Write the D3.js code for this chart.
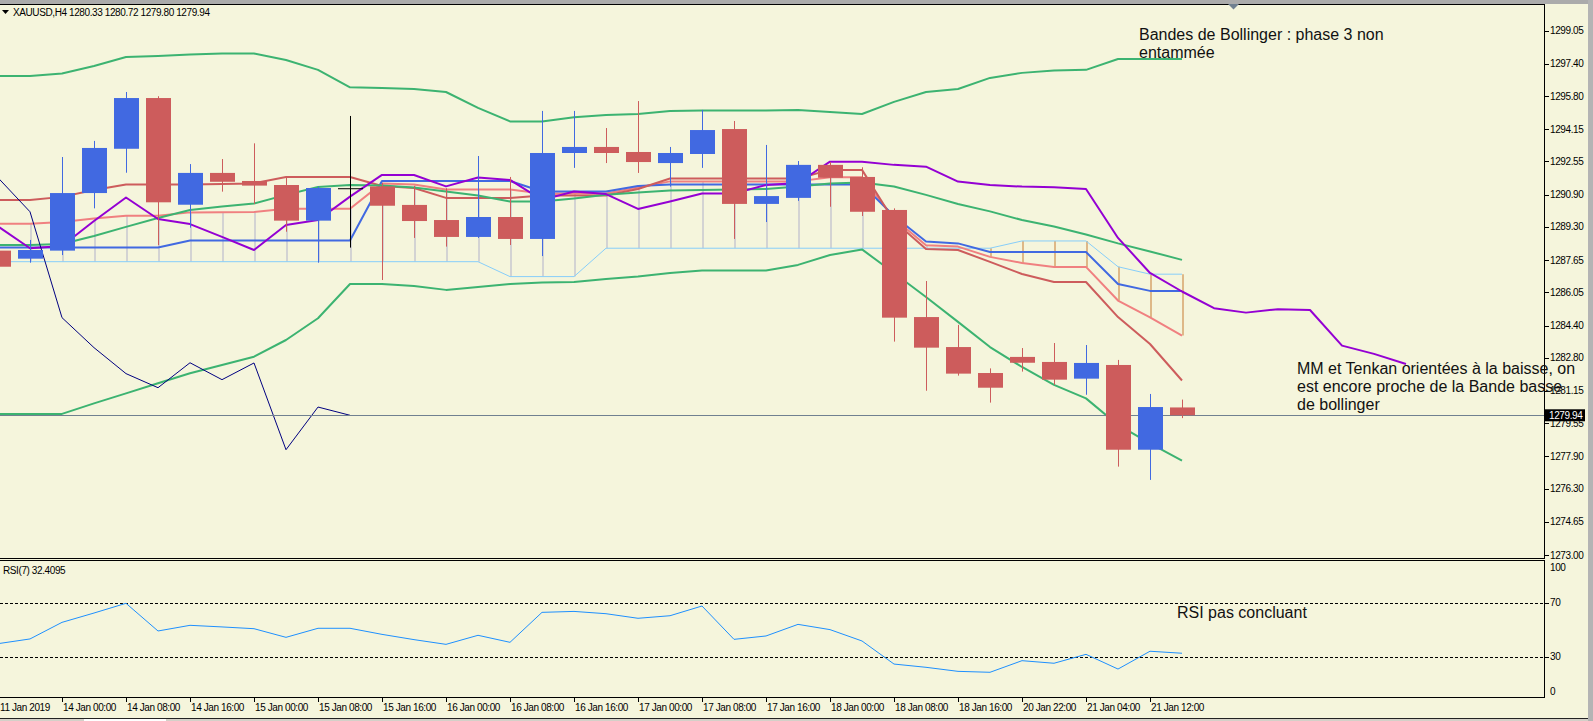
<!DOCTYPE html>
<html>
<head>
<meta charset="utf-8">
<script src="https://cdn.jsdelivr.net/npm/d3@7"></script>
<style>
body { margin: 0; background: #F5F5DC; overflow: hidden; }
svg { display: block; }
text { font-family: "Liberation Sans", Arial, sans-serif; }
</style>
</head>
<body>
<svg id="chart" width="1593" height="721"></svg>
<script>
//////////////////////////////////////////////////////////////////////////////
// Data. Bar index 0 = 14 Jan 00:00,
// every series below starts at bar index -2 unless noted.

var firstIdx = -2;

var openP  = [1288.12, 1287.72, 1288.12, 1290.98, 1293.18, 1295.70, 1290.40, 1291.98, 1291.58, 1291.38,
              1289.61, 1291.22, 1291.31, 1290.39, 1289.64, 1288.80, 1289.79, 1288.70, 1292.97, 1293.27,
              1293.02, 1292.47, 1292.92, 1294.16, 1290.44, 1290.74, 1292.38, 1291.78, 1290.14, 1284.82,
              1283.33, 1282.04, 1282.84, 1282.59, 1281.76, 1282.44, 1278.23, 1280.33];
var highP  = [1288.30, 1288.65, 1292.77, 1293.57, 1296.00, 1295.79, 1292.42, 1292.67, 1293.45, 1291.73,
              1291.30, 1294.81, 1291.48, 1291.33, 1291.22, 1292.82, 1291.78, 1295.06, 1295.06, 1294.21,
              1295.55, 1293.27, 1295.11, 1294.56, 1293.37, 1292.57, 1292.52, 1292.26, 1290.22, 1286.61,
              1284.43, 1282.27, 1283.28, 1283.53, 1283.43, 1282.69, 1281.00, 1280.72];
var lowP   = [1287.10, 1287.52, 1287.90, 1290.22, 1291.99, 1288.39, 1289.26, 1291.05, 1290.44, 1289.06,
              1287.52, 1288.27, 1286.66, 1288.75, 1288.32, 1288.75, 1288.40, 1287.85, 1292.23, 1292.47,
              1291.98, 1291.30, 1292.23, 1288.70, 1289.54, 1290.59, 1290.30, 1289.84, 1283.60, 1281.16,
              1281.91, 1280.57, 1282.11, 1281.45, 1280.96, 1277.39, 1276.73, 1279.80];
var closeP = [1287.32, 1288.15, 1290.98, 1293.22, 1295.70, 1290.52, 1291.98, 1291.54, 1291.35, 1289.61,
              1291.23, 1291.22, 1290.35, 1289.59, 1288.80, 1289.79, 1288.70, 1292.97, 1293.27, 1292.97,
              1292.52, 1292.97, 1294.11, 1290.44, 1290.83, 1292.38, 1291.74, 1290.05, 1284.79, 1283.30,
              1282.01, 1281.31, 1282.55, 1281.71, 1282.54, 1278.23, 1280.35, 1279.94];

// Bollinger bands (green)
var bbUpper  = [1296.80, 1296.80, 1296.92, 1297.29, 1297.74, 1297.79, 1297.86, 1297.91, 1297.91, 1297.59,
                1297.10, 1296.23, 1296.20, 1296.15, 1296.00, 1295.21, 1294.54, 1294.54, 1294.74, 1294.86,
                1294.91, 1295.06, 1295.08, 1295.08, 1295.08, 1295.11, 1295.01, 1294.91, 1295.51, 1296.00,
                1296.15, 1296.70, 1296.95, 1297.07, 1297.10, 1297.64, 1297.64, 1297.64];
var bbMiddle = [1288.40, 1288.40, 1288.45, 1288.85, 1289.30, 1289.74, 1290.14, 1290.31, 1290.46, 1290.89,
                1291.28, 1291.38, 1291.36, 1291.26, 1291.06, 1290.86, 1290.56, 1290.56, 1290.71, 1290.89,
                1291.01, 1291.11, 1291.13, 1291.16, 1291.18, 1291.31, 1291.46, 1291.51, 1291.31, 1290.89,
                1290.44, 1290.07, 1289.64, 1289.32, 1288.92, 1288.48, 1288.08, 1287.66];
var bbLower  = [1280.01, 1280.01, 1280.01, 1280.53, 1281.03, 1281.53, 1282.03, 1282.44, 1282.85, 1283.68,
                1284.76, 1286.46, 1286.46, 1286.36, 1286.17, 1286.31, 1286.46, 1286.54, 1286.56, 1286.71,
                1286.84, 1287.01, 1287.13, 1287.13, 1287.13, 1287.41, 1287.90, 1288.18, 1287.01, 1285.82,
                1284.58, 1283.33, 1282.34, 1281.45, 1280.78, 1279.46, 1278.54, 1277.69];

// Ichimoku lines
var tenkan = [1290.64, 1290.64, 1290.79, 1291.13, 1291.41, 1291.41, 1291.41, 1291.43, 1291.46, 1291.78,
              1291.78, 1291.78, 1291.33, 1291.23, 1290.74, 1290.74, 1290.74, 1290.86, 1290.86, 1290.86,
              1291.18, 1291.70, 1291.70, 1291.70, 1291.70, 1291.70, 1292.13, 1292.13, 1289.59, 1288.20,
              1288.15, 1287.56, 1286.96, 1286.56, 1286.56, 1284.82, 1283.48, 1281.67];
var kijun  = [1288.28, 1288.28, 1288.28, 1288.28, 1288.28, 1288.28, 1288.62, 1288.62, 1288.62, 1288.62,
              1288.62, 1288.62, 1291.58, 1291.58, 1291.58, 1291.58, 1291.58, 1291.06, 1291.06, 1291.06,
              1291.33, 1291.41, 1291.41, 1291.41, 1291.41, 1291.41, 1291.41, 1291.41, 1289.84, 1288.57,
              1288.48, 1288.05, 1288.05, 1288.05, 1288.05, 1286.46, 1286.12, 1286.12];
var spanA  = [1289.46, 1289.46, 1289.54, 1289.71, 1289.85, 1289.85, 1290.02, 1290.03, 1290.04, 1290.20,
              1290.20, 1290.20, 1291.46, 1291.41, 1291.16, 1291.16, 1291.16, 1290.96, 1290.96, 1290.96,
              1291.26, 1291.56, 1291.56, 1291.56, 1291.56, 1291.56, 1291.77, 1291.77, 1289.72, 1288.39,
              1288.32, 1287.81, 1287.51, 1287.31, 1287.31, 1285.64, 1284.80, 1283.90];
var spanB  = [1287.57, 1287.57, 1287.57, 1287.57, 1287.57, 1287.57, 1287.57, 1287.57, 1287.57, 1287.57,
              1287.57, 1287.57, 1287.57, 1287.57, 1287.57, 1287.57, 1286.83, 1286.83, 1286.83, 1288.24,
              1288.24, 1288.24, 1288.24, 1288.24, 1288.24, 1288.24, 1288.24, 1288.24, 1288.24, 1288.24,
              1288.24, 1288.24, 1288.60, 1288.60, 1288.60, 1287.32, 1286.95, 1286.95];

// purple moving average, runs 7 bars past the last candle (index -2 .. 42)
var purpleMA = [1289.32, 1288.24, 1288.35, 1289.59, 1290.76, 1289.69, 1289.44, 1288.80, 1288.15, 1289.39,
                1289.64, 1290.80, 1291.88, 1291.88, 1291.31, 1291.75, 1291.63, 1290.64, 1291.06, 1290.93,
                1290.19, 1290.56, 1290.96, 1290.96, 1291.38, 1291.48, 1292.54, 1292.54, 1292.38, 1292.29,
                1291.55, 1291.38, 1291.30, 1291.27, 1291.18, 1288.75, 1287.01, 1286.09, 1285.26, 1285.04,
                1285.21, 1285.17, 1283.40, 1282.99, 1282.49];

// lagging span (navy), starts at bar index -3
var chikouStart = -3;
var chikou = [1292.38, 1291.74, 1290.05, 1284.79, 1283.30, 1282.01, 1281.31, 1282.55, 1281.71, 1282.54,
              1278.23, 1280.35, 1279.94];

// RSI(7)
var rsi = [39.5, 43.0, 55.3, 62.2, 69.4, 48.9, 53.1, 51.9, 50.6, 44.2,
           50.9, 50.9, 46.4, 42.5, 39.0, 45.7, 40.5, 62.7, 63.4, 61.7,
           58.3, 60.2, 67.4, 42.7, 45.2, 53.8, 49.9, 41.5, 24.4, 22.0,
           19.0, 18.3, 26.9, 25.0, 31.6, 20.7, 33.9, 32.41];

var priceTicks = ["1299.05", "1297.40", "1295.80", "1294.15", "1292.55", "1290.90", "1289.30", "1287.65",
                  "1286.05", "1284.40", "1282.80", "1281.15", "1279.55", "1277.90", "1276.30", "1274.65", "1273.00"];
var rsiTicks = [100, 70, 30, 0];
var rsiLevels = [70, 30];
var lastPrice = 1279.94;

var timeIdx  = [-2, 0, 2, 4, 6, 8, 10, 12, 14, 16, 18, 20, 22, 24, 26, 28, 30, 32, 34];
var timeText = ["11 Jan 2019", "14 Jan 00:00", "14 Jan 08:00", "14 Jan 16:00", "15 Jan 00:00", "15 Jan 08:00",
                "15 Jan 16:00", "16 Jan 00:00", "16 Jan 08:00", "16 Jan 16:00", "17 Jan 00:00", "17 Jan 08:00",
                "17 Jan 16:00", "18 Jan 00:00", "18 Jan 08:00", "18 Jan 16:00", "20 Jan 22:00", "21 Jan 04:00",
                "21 Jan 12:00"];

var header = "XAUUSD,H4  1280.33 1280.72 1279.80 1279.94";
var rsiHeader = "RSI(7) 32.4095";
var noteBands = ["Bandes de Bollinger : phase 3 non", "entammée"];
var noteMM = ["MM et Tenkan orientées à la baisse, on", "est encore proche de la Bande basse", "de bollinger"];
var noteRsi = "RSI pas concluant";

//////////////////////////////////////////////////////////////////////////////
// Layout and scales

var W = 1593, H = 721;
var plotRight = 1545;
var mainTop = 4, mainBottom = 558;
var rsiTop = 560, rsiBottom = 697;

var xScale = d3.scaleLinear().domain([0, 1]).range([62, 94]);
var yPrice = d3.scaleLinear().domain([1273.00, 1299.05]).range([555.0, 30.6]);
var yRsi   = d3.scaleLinear().domain([0, 100]).range([697, 562]);

var bull = "#4169E1", bear = "#CD5C5C";

function series(values, start)
{
    return values.map(function(v, i) { return {idx: i + start, v: v}; });
}

function crisp(v) { return Math.round(v) + 0.5; }

var svg = d3.select("#chart");

svg.append("rect").attr("width", W).attr("height", H).attr("fill", "#F5F5DC");
svg.append("rect").attr("width", W).attr("height", mainTop).attr("fill", "#ABABAB");
svg.append("rect").attr("x", 1588).attr("width", 5).attr("height", H).attr("fill", "#B4B4B4");
svg.append("rect").attr("y", 719).attr("width", 1588).attr("height", 2).attr("fill", "#D4D0C8");
svg.append("rect").attr("x", 84).attr("y", 719).attr("width", 82).attr("height", 2).attr("fill", "#ffffff");
svg.append("line").attr("x1", 0).attr("x2", 1588).attr("y1", 718.5).attr("y2", 718.5).attr("stroke", "#222");

var defs = svg.append("defs");
defs.append("clipPath").attr("id", "mainClip").append("rect")
    .attr("x", 0).attr("y", mainTop + 1).attr("width", plotRight - 1).attr("height", mainBottom - mainTop - 1);
defs.append("clipPath").attr("id", "rsiClip").append("rect")
    .attr("x", 0).attr("y", rsiTop + 1).attr("width", plotRight - 1).attr("height", rsiBottom - rsiTop - 1);

var main = svg.append("g").attr("clip-path", "url(#mainClip)");

//////////////////////////////////////////////////////////////////////////////
// Kumo hatching between span A and span B

main.append("g")
    .selectAll("line")
    .data(spanA.map(function(a, i) { return {idx: i + firstIdx, a: a, b: spanB[i]}; }))
    .enter()
    .append("line")
    .attr("x1", function(d) { return xScale(d.idx) + 1; })
    .attr("x2", function(d) { return xScale(d.idx) + 1; })
    .attr("y1", function(d) { return yPrice(d.a); })
    .attr("y2", function(d) { return yPrice(d.b); })
    .attr("stroke", function(d) { return d.a >= d.b ? "#D3D3D3" : "#DEB887"; })
    .attr("stroke-width", 2);

var priceLine = d3.line()
    .x(function(d) { return xScale(d.idx); })
    .y(function(d) { return yPrice(d.v); });

function drawLine(values, start, color, width)
{
    main.append("path")
        .datum(series(values, start))
        .attr("d", priceLine)
        .attr("fill", "none")
        .attr("stroke", color)
        .attr("stroke-width", width)
        .attr("stroke-linejoin", "round");
}

drawLine(spanB, firstIdx, "#87CEFA", 1);
drawLine(spanA, firstIdx, "#F08080", 2);
drawLine(kijun, firstIdx, "#4169E1", 2);
drawLine(tenkan, firstIdx, "#CD5C5C", 2);
drawLine(bbUpper, firstIdx, "#3CB371", 2);
drawLine(bbMiddle, firstIdx, "#3CB371", 2);
drawLine(bbLower, firstIdx, "#3CB371", 2);
drawLine(purpleMA, firstIdx, "#9400D3", 2);
drawLine(chikou, chikouStart, "#000080", 1);

// last price line
main.append("line")
    .attr("x1", 0).attr("x2", plotRight)
    .attr("y1", crisp(yPrice(lastPrice))).attr("y2", crisp(yPrice(lastPrice)))
    .attr("stroke", "#708090").attr("stroke-width", 1);

//////////////////////////////////////////////////////////////////////////////
// Candles

var candles = openP.map(function(o, i) {
    return {idx: i + firstIdx, o: o, h: highP[i], l: lowP[i], c: closeP[i]};
});

function candleColor(d)
{
    if (d.c > d.o) return bull;
    if (d.c < d.o) return bear;
    return "#000000";
}

var cg = main.append("g").selectAll("g").data(candles).enter().append("g");

cg.append("line")
    .attr("x1", function(d) { return Math.round(xScale(d.idx)) + 0.5; })
    .attr("x2", function(d) { return Math.round(xScale(d.idx)) + 0.5; })
    .attr("y1", function(d) { return yPrice(d.h); })
    .attr("y2", function(d) { return yPrice(d.l); })
    .attr("stroke", candleColor)
    .attr("stroke-width", 1);

cg.append("rect")
    .attr("x", function(d) { return Math.round(xScale(d.idx)) - 12; })
    .attr("width", 25)
    .attr("y", function(d) { return yPrice(Math.max(d.o, d.c)); })
    .attr("height", function(d) { return Math.max(1, Math.abs(yPrice(d.o) - yPrice(d.c))); })
    .attr("fill", candleColor);

//////////////////////////////////////////////////////////////////////////////
// Frames, price axis, header

function hline(x1, x2, y, color)
{
    svg.append("line").attr("x1", x1).attr("x2", x2).attr("y1", y).attr("y2", y)
        .attr("stroke", color || "#000").attr("stroke-width", 1);
}
function vline(x, y1, y2, color)
{
    svg.append("line").attr("x1", x).attr("x2", x).attr("y1", y1).attr("y2", y2)
        .attr("stroke", color || "#000").attr("stroke-width", 1);
}

hline(0, plotRight, mainTop + 0.5);
hline(0, plotRight, mainBottom + 0.5);
vline(plotRight - 0.5, mainTop, mainBottom + 1);
hline(0, plotRight, rsiTop + 0.5);
hline(0, plotRight, rsiBottom + 0.5);
vline(plotRight - 0.5, rsiTop, rsiBottom + 1);

var axisFont = {size: "10px", spacing: "-0.4px"};

var pt = svg.append("g").selectAll("g").data(priceTicks).enter().append("g");
pt.append("line")
    .attr("x1", plotRight).attr("x2", plotRight + 4)
    .attr("y1", function(d) { return crisp(yPrice(+d)); })
    .attr("y2", function(d) { return crisp(yPrice(+d)); })
    .attr("stroke", "#000");
pt.append("text")
    .attr("x", plotRight + 5)
    .attr("y", function(d) { return yPrice(+d) + 3.5; })
    .attr("font-size", axisFont.size).attr("letter-spacing", axisFont.spacing)
    .attr("fill", "#000")
    .text(function(d) { return d; });

// current price tag
svg.append("rect")
    .attr("x", plotRight).attr("y", yPrice(lastPrice) - 6)
    .attr("width", 40).attr("height", 12).attr("fill", "#000");
svg.append("text")
    .attr("x", plotRight + 4).attr("y", yPrice(lastPrice) + 3.5)
    .attr("font-size", axisFont.size).attr("letter-spacing", axisFont.spacing)
    .attr("fill", "#fff").text(lastPrice.toFixed(2));

// chart shift marker
svg.append("path").attr("d", "M1228,4 L1239,4 L1233.5,9.5 Z").attr("fill", "#708090");

// header
svg.append("path").attr("d", "M2,10 L9,10 L5.5,14 Z").attr("fill", "#000");
svg.append("text").attr("x", 13).attr("y", 16)
    .attr("font-size", axisFont.size).attr("letter-spacing", axisFont.spacing)
    .attr("fill", "#000").text(header);

//////////////////////////////////////////////////////////////////////////////
// RSI panel

var rsiG = svg.append("g").attr("clip-path", "url(#rsiClip)");

rsiG.selectAll("line.level")
    .data(rsiLevels).enter().append("line")
    .attr("x1", 0).attr("x2", plotRight)
    .attr("y1", function(d) { return crisp(yRsi(d)); })
    .attr("y2", function(d) { return crisp(yRsi(d)); })
    .attr("stroke", "#000").attr("stroke-dasharray", "3,2");

rsiG.append("path")
    .datum(series(rsi, firstIdx))
    .attr("d", d3.line()
        .x(function(d) { return xScale(d.idx); })
        .y(function(d) { return yRsi(d.v); }))
    .attr("fill", "none")
    .attr("stroke", "#1E90FF")
    .attr("stroke-width", 1);

svg.append("text").attr("x", 3).attr("y", 574)
    .attr("font-size", axisFont.size).attr("letter-spacing", axisFont.spacing)
    .attr("fill", "#000").text(rsiHeader);

var rt = svg.append("g").selectAll("g").data(rsiTicks).enter().append("g");
rt.append("line")
    .attr("x1", plotRight).attr("x2", plotRight + 4)
    .attr("y1", function(d) { return crisp(yRsi(d)); })
    .attr("y2", function(d) { return crisp(yRsi(d)); })
    .attr("stroke", "#000")
    .attr("opacity", function(d) { return d === 70 || d === 30 ? 1 : 0; });
rt.append("text")
    .attr("x", plotRight + 5)
    .attr("y", function(d) { return Math.min(Math.max(yRsi(d), 567), 691) + 3.5; })
    .attr("font-size", axisFont.size).attr("letter-spacing", axisFont.spacing)
    .attr("fill", "#000")
    .text(function(d) { return d; });

//////////////////////////////////////////////////////////////////////////////
// Time axis

var tt = svg.append("g").selectAll("g")
    .data(timeIdx.map(function(idx, i) { return {idx: idx, label: timeText[i]}; }))
    .enter().append("g");
tt.append("line")
    .attr("x1", function(d) { return Math.round(xScale(d.idx)) + 0.5; })
    .attr("x2", function(d) { return Math.round(xScale(d.idx)) + 0.5; })
    .attr("y1", rsiBottom).attr("y2", rsiBottom + 5)
    .attr("stroke", "#000");
tt.append("text")
    .attr("x", function(d) { return Math.max(0, xScale(d.idx) + 1); })
    .attr("y", 711)
    .attr("font-size", axisFont.size).attr("letter-spacing", axisFont.spacing)
    .attr("fill", "#000")
    .text(function(d) { return d.label; });

//////////////////////////////////////////////////////////////////////////////
// Annotations

function note(lines, x, y)
{
    var t = svg.append("text").attr("x", x).attr("y", y)
        .attr("font-size", "16px").attr("fill", "#111");
    lines.forEach(function(s, i) {
        t.append("tspan").attr("x", x).attr("dy", i === 0 ? 0 : 18).text(s);
    });
}

note(noteBands, 1139, 40);
note(noteMM, 1297, 374);
note([noteRsi], 1177, 618);
</script>
</body>
</html>
